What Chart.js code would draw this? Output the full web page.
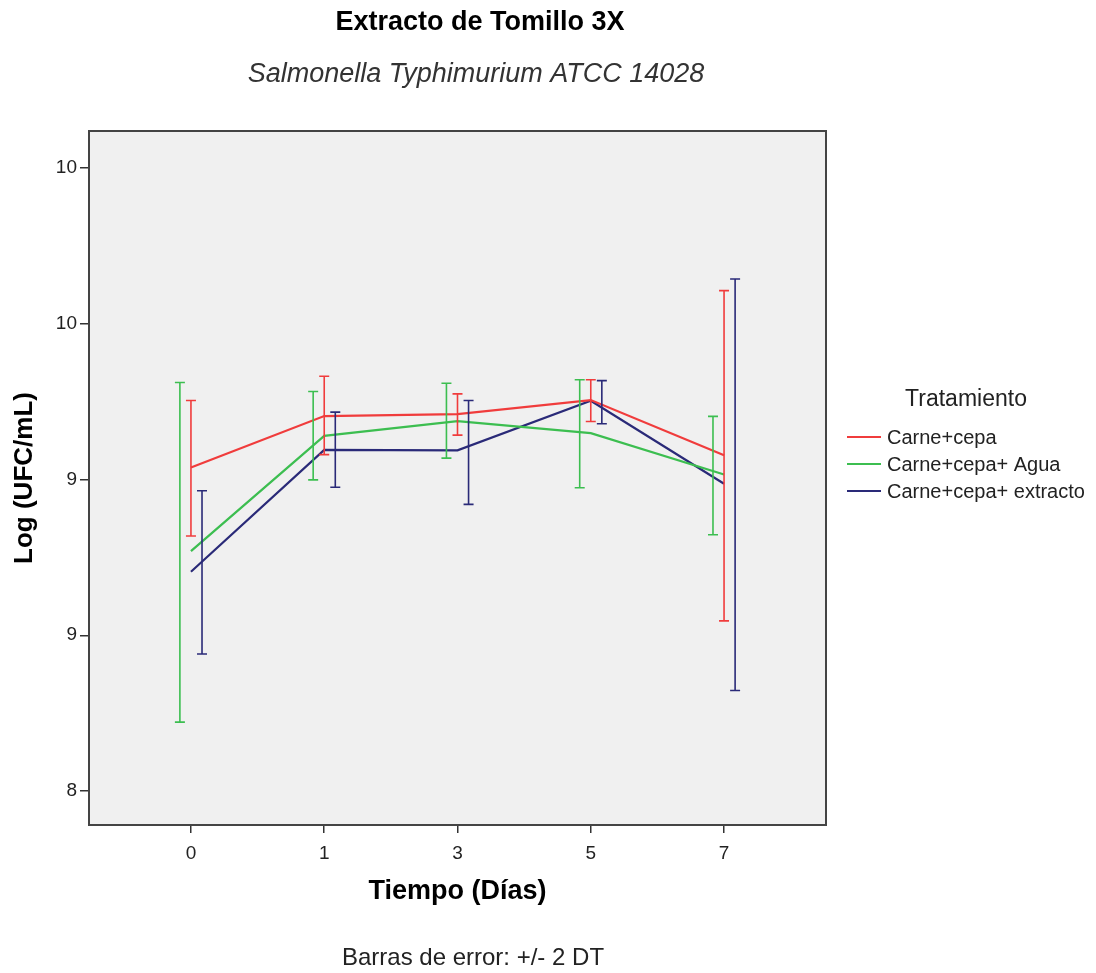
<!DOCTYPE html>
<html><head><meta charset="utf-8">
<script src="https://cdn.jsdelivr.net/npm/chart.js@4/dist/chart.umd.min.js"></script>
<style>html,body{margin:0;padding:0;background:#fff;}canvas{display:block}</style>
</head><body>
<canvas id="c" width="1096" height="973"></canvas>
<script>
const categories = ['0', '1', '3', '5', '7'];
const yTickValues = [8.4, 8.8, 9.2, 9.6, 10.0];
const yTickLabels = ['8', '9', '9', '10', '10'];
const seriesNames = ['Carne+cepa', 'Carne+cepa+ Agua', 'Carne+cepa+ extracto'];
const meanCepa = [9.231, 9.363, 9.368, 9.404, 9.262];
const lowCepa = [9.055, 9.264, 9.314, 9.349, 8.837];
const highCepa = [9.403, 9.465, 9.420, 9.456, 9.685];
const meanAgua = [9.016, 9.312, 9.350, 9.319, 9.213];
const lowAgua = [8.577, 9.199, 9.255, 9.179, 9.058];
const highAgua = [9.449, 9.426, 9.447, 9.456, 9.362];
const meanExtracto = [8.963, 9.276, 9.275, 9.402, 9.189];
const lowExtracto = [8.752, 9.180, 9.136, 9.343, 8.658];
const highExtracto = [9.171, 9.373, 9.403, 9.454, 9.715];

const FONT = "'Liberation Sans', Arial, sans-serif";
Chart.defaults.font.family = FONT;
const colors = ['#f03c3c', '#3cbe50', '#2a2a78'];
const barOffsets = [0, -0.083, 0.083];
const means = [meanCepa, meanAgua, meanExtracto];
const lows = [lowCepa, lowAgua, lowExtracto];
const highs = [highCepa, highAgua, highExtracto];

const datasets = seriesNames.map((name, k) => ({
  label: name,
  data: means[k].map((v, i) => ({x: i, y: v})),
  borderColor: colors[k],
  backgroundColor: colors[k],
  borderWidth: 2.2,
  pointRadius: 0,
  tension: 0,
  fill: false,
  errLow: lows[k],
  errHigh: highs[k],
  errOffset: barOffsets[k]
}));

const bgPlugin = {
  id: 'bg',
  beforeDraw(chart) {
    const {ctx, chartArea: a} = chart;
    ctx.save();
    ctx.fillStyle = '#f0f0f0';
    ctx.fillRect(a.left, a.top, a.right - a.left, a.bottom - a.top);
    ctx.restore();
  },
  afterDatasetsDraw(chart) {
    const {ctx, chartArea: a, scales} = chart;
    ctx.save();
    chart.data.datasets.forEach(ds => {
      ctx.strokeStyle = ds.borderColor;
      ctx.lineWidth = 1.6;
      ds.errLow.forEach((lo, i) => {
        const x = scales.x.getPixelForValue(i + ds.errOffset);
        const y1 = scales.y.getPixelForValue(lo);
        const y2 = scales.y.getPixelForValue(ds.errHigh[i]);
        ctx.beginPath();
        ctx.moveTo(x, y1); ctx.lineTo(x, y2);
        ctx.moveTo(x - 5, y1); ctx.lineTo(x + 5, y1);
        ctx.moveTo(x - 5, y2); ctx.lineTo(x + 5, y2);
        ctx.stroke();
      });
    });
    ctx.strokeStyle = '#444';
    ctx.lineWidth = 2;
    ctx.strokeRect(a.left, a.top, a.right - a.left, a.bottom - a.top);
    ctx.restore();
  },
  afterDraw(chart) {
    const {ctx} = chart;
    ctx.save();
    ctx.textAlign = 'center';
    ctx.textBaseline = 'middle';
    ctx.fillStyle = '#000';
    ctx.font = "bold 27px " + FONT;
    ctx.fillText('Extracto de Tomillo 3X', 480, 23);
    ctx.fillStyle = '#333';
    ctx.font = "italic 27px " + FONT;
    ctx.fillText('Salmonella Typhimurium ATCC 14028', 476, 74);
    ctx.fillStyle = '#222';
    ctx.font = "24px " + FONT;
    ctx.fillText('Barras de error: +/- 2 DT', 473, 958);
    // legend
    ctx.font = "23px " + FONT;
    ctx.fillText('Tratamiento', 966, 400);
    ctx.textAlign = 'left';
    ctx.font = "20px " + FONT;
    chart.data.datasets.forEach((ds, k) => {
      const y = 437 + k * 27;
      ctx.strokeStyle = ds.borderColor;
      ctx.lineWidth = 2;
      ctx.beginPath(); ctx.moveTo(847, y); ctx.lineTo(881, y); ctx.stroke();
      ctx.fillStyle = '#222';
      ctx.fillText(ds.label, 887, y + 1);
    });
    ctx.restore();
  }
};

new Chart(document.getElementById('c'), {
  type: 'line',
  data: {datasets},
  options: {
    responsive: false,
    animation: false,
    layout: {padding: {top: 131, right: 270, left: 0, bottom: 0}},
    plugins: {legend: {display: false}, title: {display: false}, tooltip: {enabled: false}},
    scales: {
      x: {
        type: 'linear',
        min: -0.765, max: 4.765,
        afterBuildTicks: s => { s.ticks = categories.map((c, i) => ({value: i})); },
        afterFit: s => { s.height = 148; },
        ticks: {
          autoSkip: false, maxRotation: 0, padding: 9, color: '#222',
          font: {size: 19},
          callback: v => categories[Math.round(v)]
        },
        grid: {drawOnChartArea: false, drawTicks: true, tickLength: 8, color: '#333', lineWidth: 1.5},
        border: {display: false},
        title: {display: true, text: 'Tiempo (Días)', color: '#000', font: {size: 27, weight: 'bold'}, padding: {top: 0, bottom: 65}}
      },
      y: {
        type: 'linear',
        min: 8.3127, max: 10.095,
        afterBuildTicks: s => { s.ticks = yTickValues.map(v => ({value: v})); },
        afterFit: s => { s.width = 89; },
        ticks: {
          padding: 3, color: '#222', font: {size: 19},
          callback: (v, i) => yTickLabels[i]
        },
        grid: {drawOnChartArea: false, drawTicks: true, tickLength: 9, color: '#333', lineWidth: 1.5},
        border: {display: false},
        title: {display: true, text: 'Log (UFC/mL)', color: '#000', font: {size: 26, weight: 'bold'}, padding: {top: 9, bottom: 0}}
      }
    }
  },
  plugins: [bgPlugin]
});
</script>
</body></html>
